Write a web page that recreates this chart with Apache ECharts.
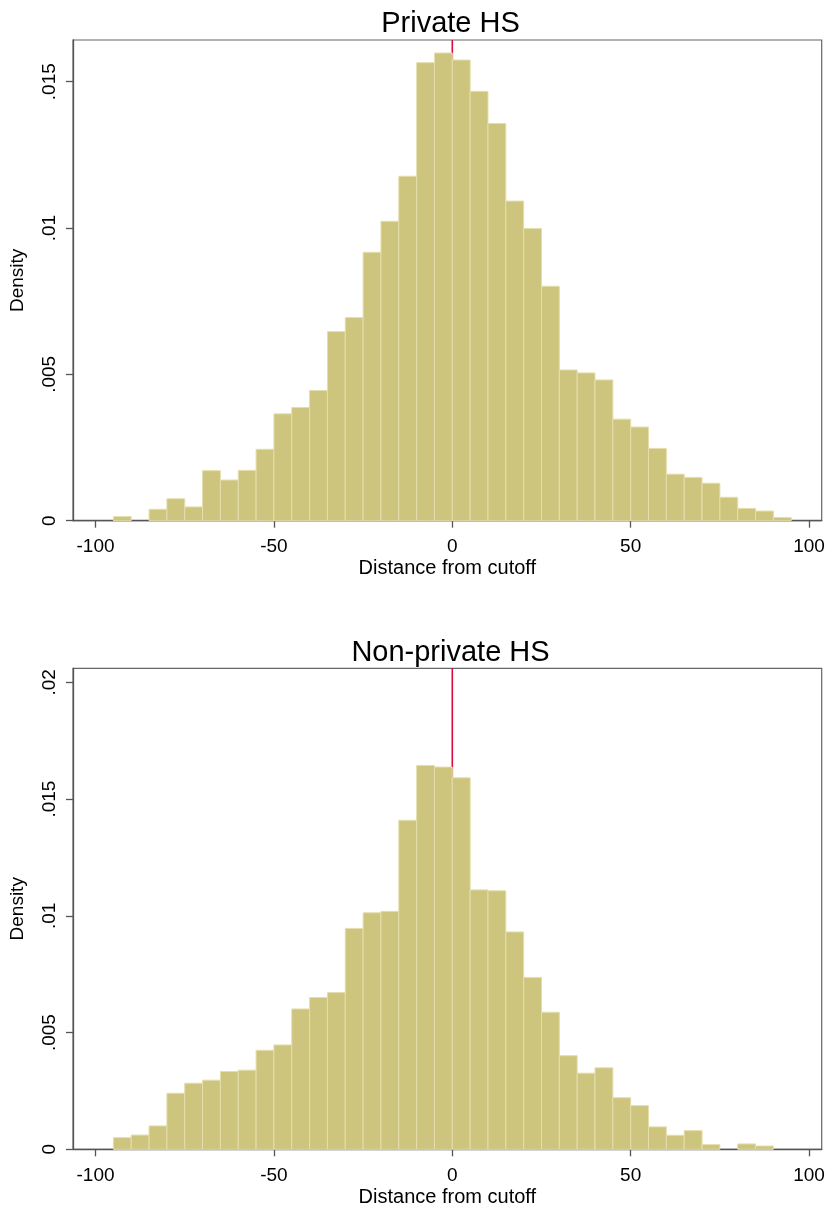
<!DOCTYPE html>
<html>
<head>
<meta charset="utf-8">
<script src="https://cdn.jsdelivr.net/npm/echarts@6/dist/echarts.min.js"></script>
<style>
html,body{margin:0;padding:0;background:#fff;}
#chart{width:830px;height:1210px;}
</style>
</head>
<body>
<div id="chart"></div>
<script>
// Bin edges (width 5) shared by both histograms
var binEdges = [-100,-95,-90,-85,-80,-75,-70,-65,-60,-55,-50,-45,-40,-35,-30,-25,-20,-15,-10,-5,
                0,5,10,15,20,25,30,35,40,45,50,55,60,65,70,75,80,85,90,95,100];

// Density per bin, Private HS
var privateDensity = [0,0.00014,0,0.00039,0.00075,0.00047,0.00171,0.00139,0.00172,0.00244,
                      0.00365,0.00387,0.00445,0.00646,0.00694,0.00917,0.01023,0.01177,0.01565,0.01598,
                      0.01574,0.01467,0.01357,0.01092,0.00998,0.00801,0.00515,0.00505,0.00481,0.00347,
                      0.00320,0.00247,0.00159,0.00148,0.00128,0.00080,0.00042,0.00033,0.00011,0];

// Density per bin, Non-private HS
var nonPrivateDensity = [0,0.00050,0.00061,0.00100,0.00240,0.00283,0.00296,0.00333,0.00339,0.00424,
                         0.00447,0.00601,0.00650,0.00671,0.00946,0.01013,0.01019,0.01409,0.01644,0.01637,
                         0.01591,0.01111,0.01107,0.00931,0.00736,0.00587,0.00401,0.00326,0.00349,0.00221,
                         0.00187,0.00096,0.00060,0.00080,0.00020,0,0.00023,0.00014,0,0];

var xTicks = [-100,-50,0,50,100];
var yTicksTop = [0,0.005,0.01,0.015];
var yTicksBottom = [0,0.005,0.01,0.015,0.02];
var cutoff = 0;
var titles = ['Private HS','Non-private HS'];
var xTitle = 'Distance from cutoff';
var yTitle = 'Density';

function binData(vals){
  var out = [];
  for (var i = 0; i < vals.length; i++){
    if (vals[i] > 0) out.push([binEdges[i], binEdges[i+1], vals[i]]);
  }
  return out;
}

var FONT = 'Liberation Sans, Arial, sans-serif';
var BAR_FILL = '#cdc47e';
var BAR_EDGE = '#e4dead';

function renderBar(params, api){
  var p0 = api.coord([api.value(0), api.value(2)]);
  var p1 = api.coord([api.value(1), 0]);
  return {
    type: 'rect',
    shape: {x: p0[0], y: p0[1], width: p1[0]-p0[0], height: p1[1]-p0[1]},
    style: {fill: BAR_FILL, stroke: BAR_EDGE, lineWidth: 1}
  };
}

function yFmt(v){ return v === 0 ? '0' : String(v).replace(/^0/, ''); }

function xAxisFor(idx){
  return {
    type: 'value', gridIndex: idx, min: -106.32, max: 103.54,
    name: xTitle, nameLocation: 'middle', nameGap: 38,
    nameTextStyle: {fontFamily: FONT, fontSize: 20, color: '#000'},
    axisLine: {show: true, onZero: false, lineStyle: {color: '#555', width: 1.3}},
    axisTick: {show: true, length: 7, inside: false, customValues: xTicks, lineStyle: {color: '#555', width: 1.3}},
    axisLabel: {customValues: xTicks, margin: 17, fontFamily: FONT, fontSize: 19, color: '#000'},
    splitLine: {show: false}
  };
}
function yAxisFor(idx, max, ticks){
  return {
    type: 'value', gridIndex: idx, min: 0, max: max,
    name: yTitle, nameLocation: 'middle', nameGap: 46, nameRotate: 90,
    nameTextStyle: {fontFamily: FONT, fontSize: 19, color: '#000'},
    axisLine: {show: true, onZero: false, lineStyle: {color: '#555', width: 1.3}},
    axisTick: {show: true, length: 7, inside: false, customValues: ticks, lineStyle: {color: '#555', width: 1.3}},
    axisLabel: {customValues: ticks, rotate: 90, margin: 14, fontFamily: FONT, fontSize: 19, color: '#000', formatter: yFmt},
    splitLine: {show: false}
  };
}

var topMax = 0.016424, botMax = 0.0206;

var option = {
  animation: false,
  backgroundColor: '#ffffff',
  title: [
    {text: titles[0], left: 445.5, top: 4.5, textAlign: 'center',
     textStyle: {fontFamily: FONT, fontSize: 29, fontWeight: 'normal', color: '#000'}},
    {text: titles[1], left: 445.5, top: 633, textAlign: 'center',
     textStyle: {fontFamily: FONT, fontSize: 29, fontWeight: 'normal', color: '#000'}}
  ],
  grid: [
    {left: 69, right: 8.3, top: 40, height: 480.7, show: true, borderColor: '#666', borderWidth: 1.2, backgroundColor: '#fff'},
    {left: 69, right: 8.3, top: 668.3, height: 481, show: true, borderColor: '#666', borderWidth: 1.2, backgroundColor: '#fff'}
  ],
  xAxis: [xAxisFor(0), xAxisFor(1)],
  yAxis: [yAxisFor(0, topMax, yTicksTop), yAxisFor(1, botMax, yTicksBottom)],
  series: [
    {type: 'line', xAxisIndex: 0, yAxisIndex: 0, z: 1, symbol: 'none', silent: true,
     data: [[cutoff, 0], [cutoff, topMax]], lineStyle: {color: '#dc0a3c', width: 1.6}},
    {type: 'custom', xAxisIndex: 0, yAxisIndex: 0, z: 2, renderItem: renderBar,
     data: binData(privateDensity), encode: {x: [0, 1], y: 2}},
    {type: 'line', xAxisIndex: 1, yAxisIndex: 1, z: 1, symbol: 'none', silent: true,
     data: [[cutoff, 0], [cutoff, botMax]], lineStyle: {color: '#dc0a3c', width: 1.6}},
    {type: 'custom', xAxisIndex: 1, yAxisIndex: 1, z: 2, renderItem: renderBar,
     data: binData(nonPrivateDensity), encode: {x: [0, 1], y: 2}}
  ]
};

var chart = echarts.init(document.getElementById('chart'), null, {renderer: 'canvas'});
chart.setOption(option);
</script>
</body>
</html>
